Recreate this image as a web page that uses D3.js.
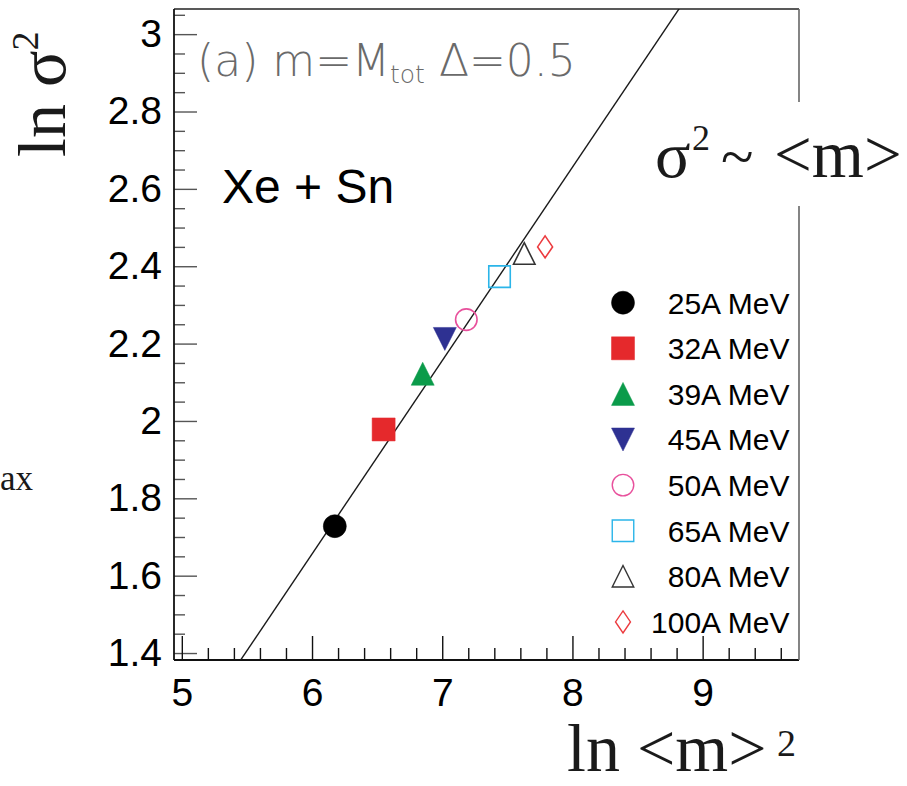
<!DOCTYPE html>
<html>
<head>
<meta charset="utf-8">
<script src="https://cdn.jsdelivr.net/npm/d3@7"></script>
<style>
  body { margin: 0; background: #fff; }
  svg { display: block; }
</style>
</head>
<body>
<svg id="chart" width="907" height="786"></svg>
<script>
// Fluctuation scaling for Xe + Sn: ln sigma^2 versus ln <m>^2 per beam energy
const beamEnergies = ["25A MeV", "32A MeV", "39A MeV", "45A MeV", "50A MeV", "65A MeV", "80A MeV", "100A MeV"];
const lnMeanM2 = [6.175, 6.55, 6.85, 7.02, 7.185, 7.44, 7.63, 7.79];
const lnSigma2 = [1.728, 1.978, 2.122, 2.212, 2.262, 2.373, 2.433, 2.450];

// straight line ln sigma^2 = 0.5 ln <m>^2 + c  (sigma^2 ~ <m>)
const fitSlope = 0.5;
const fitIntercept = -1.344;

const xTickValues = [5, 6, 7, 8, 9];
const yTickValues = [1.4, 1.6, 1.8, 2.0, 2.2, 2.4, 2.6, 2.8, 3.0];

// marker styling per energy
const markerShapes = ["circle", "square", "triangleUp", "triangleDown", "circle", "square", "triangleUp", "diamond"];
const markerFilled = [true, true, true, true, false, false, false, false];
const markerColors = ["#000000", "#e5292c", "#0b9b4a", "#2e3192", "#e8509c", "#2bb5e9", "#333333", "#ec3b3f"];

const svg = d3.select("#chart");
const W = 907, H = 786;
const margin = { left: 174, top: 9, right: 108, bottom: 126 };
const plotW = W - margin.left - margin.right;
const plotH = H - margin.top - margin.bottom;

const x = d3.scaleLinear().domain([4.94, 9.74]).range([0, plotW]);
const y = d3.scaleLinear().domain([1.382, 3.065]).range([plotH, 0]);

const g = svg.append("g").attr("transform", `translate(${margin.left},${margin.top})`);

// minor tick positions
const xMinor = d3.range(5, 9.75, 0.2).map(v => +v.toFixed(2)).filter(v => Math.abs(v - Math.round(v)) > 1e-6);
const yMinor = d3.range(1.4, 3.06, 0.05).map(v => +v.toFixed(2)).filter(v => !yTickValues.some(t => Math.abs(t - v) < 1e-6));

const tickFont = "'Liberation Sans', Arial, Helvetica, sans-serif";

// y axis: ticks pointing into the frame
const yMajor = d3.axisLeft(y).tickValues(yTickValues).tickSize(-23).tickPadding(12).tickFormat(d3.format("~g"));
const yMin = d3.axisLeft(y).tickValues(yMinor).tickSize(-11).tickFormat("");
const gy = g.append("g").call(yMajor);
g.append("g").call(yMin).call(s => s.select(".domain").remove());
gy.select(".domain").remove();
g.selectAll("g.tick line").attr("stroke", "#555").attr("stroke-width", 1.4);
gy.selectAll("text").attr("font-family", tickFont).attr("font-size", 39).attr("fill", "#000");

// x axis
const xMajorAxis = d3.axisBottom(x).tickValues(xTickValues).tickSize(-24).tickPadding(18).tickFormat(d3.format("d"));
const xMinorAxis = d3.axisBottom(x).tickValues(xMinor).tickSize(-12).tickFormat("");
const gx = g.append("g").attr("transform", `translate(0,${plotH})`).call(xMajorAxis);
const gxm = g.append("g").attr("transform", `translate(0,${plotH})`).call(xMinorAxis);
gx.select(".domain").remove();
gxm.select(".domain").remove();
gx.selectAll(".tick line").attr("stroke", "#111").attr("stroke-width", 1.4);
gxm.selectAll(".tick line").attr("stroke", "#111").attr("stroke-width", 1.4);
gx.selectAll("text").attr("font-family", tickFont).attr("font-size", 39).attr("fill", "#000");

// frame
g.append("line").attr("x1", 0).attr("x2", plotW).attr("y1", 0).attr("y2", 0).attr("stroke", "#222").attr("stroke-width", 1.6);
g.append("line").attr("x1", 0).attr("x2", 0).attr("y1", 0).attr("y2", plotH).attr("stroke", "#111").attr("stroke-width", 1.8);
g.append("line").attr("x1", 0).attr("x2", plotW).attr("y1", plotH).attr("y2", plotH).attr("stroke", "#111").attr("stroke-width", 1.8);
g.append("line").attr("x1", plotW).attr("x2", plotW).attr("y1", 0).attr("y2", plotH).attr("stroke", "#666").attr("stroke-width", 1.6);

// fitted line, clipped to the frame
svg.append("clipPath").attr("id", "plotClip").append("rect").attr("width", plotW).attr("height", plotH);
const lineXs = x.domain();
g.append("path")
  .attr("clip-path", "url(#plotClip)")
  .attr("d", d3.line().x(d => x(d)).y(d => y(fitSlope * d + fitIntercept))(lineXs))
  .attr("fill", "none").attr("stroke", "#1a1a1a").attr("stroke-width", 1.4);

// marker shapes (size = overall height in px)
const shapeTypes = {
  circle: { draw(ctx, s) { const r = s / 2; ctx.moveTo(r, 0); ctx.arc(0, 0, r, 0, 2 * Math.PI); } },
  square: { draw(ctx, s) { const h = s / 2; ctx.moveTo(-h, -h); ctx.lineTo(h, -h); ctx.lineTo(h, h); ctx.lineTo(-h, h); ctx.closePath(); } },
  triangleUp: { draw(ctx, s) { const h = s / 2; ctx.moveTo(0, -h); ctx.lineTo(h, h); ctx.lineTo(-h, h); ctx.closePath(); } },
  triangleDown: { draw(ctx, s) { const h = s / 2; ctx.moveTo(0, h); ctx.lineTo(h, -h); ctx.lineTo(-h, -h); ctx.closePath(); } },
  diamond: { draw(ctx, s) { const h = s / 2, w = s * 0.34; ctx.moveTo(0, -h); ctx.lineTo(w, 0); ctx.lineTo(0, h); ctx.lineTo(-w, 0); ctx.closePath(); } }
};
const markerSize = i => markerFilled[i] ? 23 : (markerShapes[i] === "diamond" ? 22 : 21.5);
const symbolPath = i => d3.symbol().type(shapeTypes[markerShapes[i]]).size(markerSize(i))();

const pts = beamEnergies.map((e, i) => i);
g.append("g").selectAll("path").data(pts).join("path")
  .attr("transform", i => `translate(${x(lnMeanM2[i])},${y(lnSigma2[i])})`)
  .attr("d", i => symbolPath(i))
  .attr("fill", i => markerFilled[i] ? markerColors[i] : "none")
  .attr("stroke", i => markerColors[i])
  .attr("stroke-width", i => markerFilled[i] ? 0.5 : 1.6);

// legend
const legendX = 623 - margin.left, legendTextX = 789.5 - margin.left;
const legendTop = 302.7 - margin.top, legendStep = 45.6;
const leg = g.append("g").selectAll("g").data(pts).join("g")
  .attr("transform", i => `translate(0,${legendTop + i * legendStep})`);
leg.append("path")
  .attr("transform", `translate(${legendX},0)`)
  .attr("d", i => symbolPath(i))
  .attr("fill", i => markerFilled[i] ? markerColors[i] : "none")
  .attr("stroke", i => markerColors[i])
  .attr("stroke-width", i => markerFilled[i] ? 0.5 : 1.4);
leg.append("text")
  .attr("x", legendTextX).attr("y", 10.8)
  .attr("text-anchor", "end")
  .attr("font-family", tickFont).attr("font-size", 30).attr("fill", "#000")
  .text(i => beamEnergies[i]);

// panel annotation
const ann = svg.append("text").attr("x", 197).attr("y", 76)
  .attr("font-family", "'DejaVu Sans', sans-serif").attr("font-weight", 200)
  .attr("font-size", 44).attr("fill", "#6a6a6a");
ann.append("tspan").text("(a) m=M");
ann.append("tspan").attr("font-size", 25).attr("dy", 7).text("tot");
ann.append("tspan").attr("dy", -7).text(" \u0394=0.5");

svg.append("text").attr("x", 222).attr("y", 203)
  .attr("font-family", tickFont).attr("font-size", 48).attr("fill", "#000")
  .text("Xe + Sn");

// axis titles and relation label
const serif = "'Liberation Serif', 'Times New Roman', serif";
svg.append("rect").attr("x", 640).attr("y", 102).attr("width", 267).attr("height", 104).attr("fill", "#fff");
const rel = svg.append("text").attr("y", 177).attr("font-family", serif).attr("fill", "#1a1a1a");
rel.append("tspan").attr("x", 655).attr("font-size", 66).text("\u03c3");
rel.append("tspan").attr("x", 692).attr("y", 150).attr("font-size", 36).text("2");
rel.append("tspan").attr("x", 721).attr("y", 177).attr("font-size", 60).text("~");
rel.append("tspan").attr("x", 774).attr("y", 177).attr("font-size", 67).text("<m>");

const yTitle = svg.append("text")
  .attr("transform", "translate(65,157) rotate(-90)")
  .attr("font-family", serif).attr("fill", "#1a1a1a").attr("font-size", 68);
yTitle.append("tspan").text("ln \u03c3");
yTitle.append("tspan").attr("font-size", 38).attr("dy", -27).text("2");

const xTitle = svg.append("text").attr("x", 567).attr("y", 771)
  .attr("font-family", serif).attr("fill", "#1a1a1a").attr("font-size", 68);
xTitle.append("tspan").text("ln <m>");
xTitle.append("tspan").attr("x", 777).attr("y", 756).attr("font-size", 38).text("2");

svg.append("text").attr("x", 0).attr("y", 490)
  .attr("font-family", serif).attr("fill", "#1a1a1a").attr("font-size", 35)
  .text("ax");
</script>
</body>
</html>
